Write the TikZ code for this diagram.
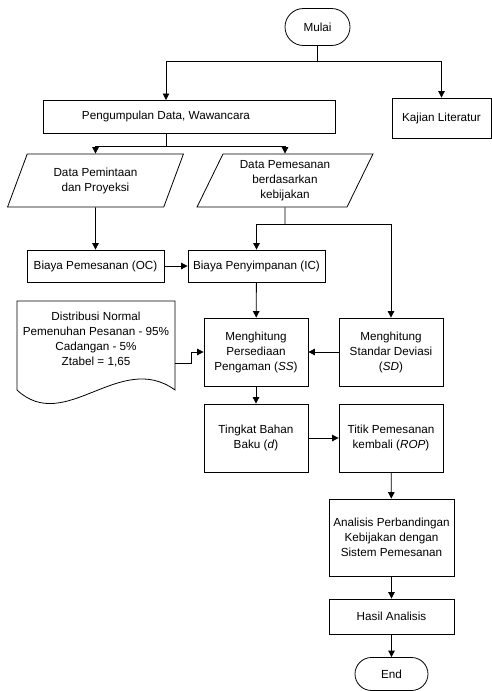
\documentclass[tikz,border=0pt]{standalone}
\usepackage{fontspec}
\setmainfont{Liberation Sans}
\usepackage{tikz}
\usetikzlibrary{shapes.geometric,shapes.misc,arrows.meta}

\begin{document}
\begin{tikzpicture}[x=1pt, y=-1pt, line width=0.8pt,
  every node/.style={font=\fontsize{11.7}{15}\selectfont, align=center, inner sep=0pt},
  proc/.style={draw, rectangle, minimum width=#1},
  term/.style={draw, rounded rectangle, minimum width=#1},
  io/.style={draw, trapezium, trapezium left angle=65, trapezium right angle=115,
    trapezium stretches=true, minimum width=176, minimum height=53},
  arr/.style={-{Triangle[length=6.5pt,width=6.5pt]}}]
\useasboundingbox (0,0) rectangle (491,691);
% start and first split
\node[term=65, minimum height=37] (mulai) at (317.5,27) {Mulai};
\node[proc=292, minimum height=33] (kumpul) at (189,116.5) {Pengumpulan Data, Wawancara\hspace{46pt}};
\node[proc=99, minimum height=40] (kajian) at (441.5,118) {Kajian Literatur};
\coordinate (split) at (317.5,61);
\coordinate (kumpulin) at (166,100);
\coordinate (kumpulout) at (166,133);
\coordinate (split2) at (166,146);
% data input
\node[io] (minta) at (95.5,180.5) {Data Pemintaan\\dan Proyeksi};
\node[io] (pesan) at (285,180.5) {Data Pemesanan\\berdasarkan\\kebijakan};
\coordinate (split3) at (285,224);
% cost
\node[proc=137, minimum height=32] (oc) at (95.5,266) {Biaya Pemesanan (OC)};
\node[proc=137, minimum height=32] (ic) at (256.5,266) {Biaya Penyimpanan (IC)};
% calculation
\node[proc=104, minimum height=68] (ss) at (256,352) {Menghitung\\Persediaan\\Pengaman (\textit{SS})};
\node[proc=104, minimum height=68] (sd) at (391,352) {Menghitung\\Standar Deviasi\\(\textit{SD})};
\node[proc=104, minimum height=68] (baku) at (256,438) {Tingkat Bahan\\Baku (\textit{d})};
\node[proc=104, minimum height=68] (rop) at (391,438) {Titik Pemesanan\\kembali (\textit{ROP})};
\node[proc=125, minimum height=77] (analisis) at (391.5,537.5) {Analisis Perbandingan\\Kebijakan dengan\\Sistem Pemesanan};
\node[proc=125, minimum height=35] (hasil) at (391.5,616.5) {Hasil Analisis};
\node[term=73, minimum height=33] (end) at (391.5,674) {End};
% document
\node (dist) at (96,340) {Distribusi Normal\\Pemenuhan Pesanan - 95\%\\Cadangan - 5\%\\Ztabel = 1,65};
\draw (17,301) -- (175,301) -- (175,390) .. controls (120,350) and (65,435) .. (17,390) -- cycle;
\coordinate (distout) at (175,363);
% connectors
\draw (mulai) -- (split);
\draw[arr] (split) -| (kumpulin);
\draw[arr] (split) -| (kajian.north);
\draw (kumpulout) -- (split2);
\draw[arr] (split2) -| (minta.north);
\draw[arr] (split2) -| (pesan.north);
\draw[arr] (minta.south) -- (oc);
\draw (pesan.south) -- (split3);
\draw[arr] (split3) -| (ic.north);
\draw[arr] (split3) -| (sd.north);
\draw[arr] (oc) -- (ic);
\draw[arr] (ic) -- (ss);
\draw[arr] (sd) -- (ss);
\draw[arr] (distout) -- ++(16,0) |- (ss.west);
\draw[arr] (ss) -- (baku);
\draw[arr] (baku) -- (rop);
\draw[arr] (rop) -- (analisis);
\draw[arr] (analisis) -- (hasil);
\draw[arr] (hasil) -- (end);
\end{tikzpicture}
\end{document}
